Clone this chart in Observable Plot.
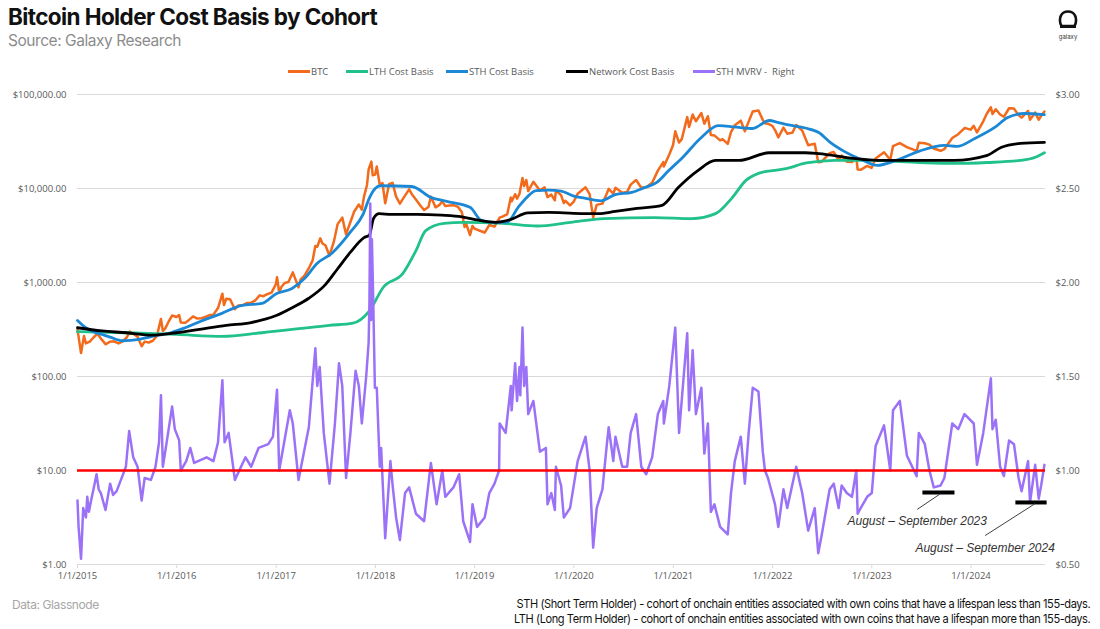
<!DOCTYPE html>
<html><head><meta charset="utf-8">
<script src="https://cdn.jsdelivr.net/npm/d3@7"></script>
<script src="https://cdn.jsdelivr.net/npm/@observablehq/plot@0.6"></script>
<style>
body{margin:0;background:#fff;width:1100px;height:629px;overflow:hidden;position:relative;font-family:Inter,"Open Sans",sans-serif}
#title{position:absolute;left:8px;top:3px;font-weight:700;font-size:22.5px;letter-spacing:-0.6px;color:#111;white-space:nowrap}
#sub{position:absolute;left:8px;top:31px;font-size:15.5px;letter-spacing:-0.45px;color:#8c8c8c;white-space:nowrap}
#logo{position:absolute;left:1056px;top:9px;width:24px;text-align:center}
#logo div{font-size:6px;color:#333;margin-top:-1px}
#legend{position:absolute;top:65px;left:0;width:1100px;height:14px;font-family:"Open Sans",sans-serif;font-size:9.5px;color:#595959}
.li{position:absolute;top:0;white-space:pre;display:flex;align-items:center}
.sw{display:inline-block;width:22px;height:3px;margin-right:1px}
#chart{position:absolute;left:0;top:84px}
#data{position:absolute;left:12px;top:597px;font-size:12px;color:#a6a6a6;letter-spacing:-0.4px}
#notes{position:absolute;right:10px;top:596px;font-size:12px;line-height:15px;color:#111;text-align:right;letter-spacing:-0.45px;white-space:nowrap;transform:scaleX(0.92);transform-origin:right top}
</style></head>
<body>
<div id="title">Bitcoin Holder Cost Basis by Cohort</div>
<div id="sub">Source: Galaxy Research</div>
<div id="logo"><svg width="22" height="21" viewBox="0 0 22 21"><path d="M4.5 17 C2.5 14 2.5 9 4 6.5 C5.5 3.5 8 2.5 11 2.5 C14 2.5 16.5 3.5 18 6.5 C19.5 9 19.5 14 17.5 17 Z" fill="none" stroke="#111" stroke-width="2.6" stroke-linejoin="round"/><line x1="3" y1="17.5" x2="19" y2="17.5" stroke="#111" stroke-width="3"/></svg><div>galaxy</div></div>
<div id="legend"></div>
<div id="chart"></div>
<div id="data">Data: Glassnode</div>
<div id="notes">STH (Short Term Holder) - cohort of onchain entities associated with own coins that have a lifespan less than 155-days.<br>LTH (Long Term Holder) - cohort of onchain entities associated with own coins that have a lifespan more than 155-days.</div>
<script>
// ---------- DATA ----------
const seriesNames = ["BTC","LTH Cost Basis","STH Cost Basis","Network Cost Basis","STH MVRV -  Right"];
const seriesColors = ["#F26A1B","#20C18A","#1B88D6","#000000","#9B72F7"];
const leftTicks = [1,10,100,1000,10000,100000];
const rightTicks = [0.5,1.0,1.5,2.0,2.5,3.0];
const yearTicks = ["2015","2016","2017","2018","2019","2020","2021","2022","2023","2024"];

const btc = [
["2015-01-01",315],["2015-01-14",178],["2015-01-25",270],["2015-02-01",225],["2015-02-15",235],["2015-03-01",260],["2015-03-15",285],["2015-04-01",245],["2015-04-15",220],["2015-05-01",235],["2015-05-15",237],["2015-06-01",225],["2015-06-15",235],["2015-07-01",260],["2015-07-12",300],["2015-07-25",285],["2015-08-10",265],["2015-08-25",210],["2015-09-05",235],["2015-09-20",230],["2015-10-05",240],["2015-10-20",270],["2015-11-04",410],["2015-11-11",305],["2015-11-20",325],["2015-12-01",378],["2015-12-15",445],["2015-12-31",430],
["2016-01-10",450],["2016-01-16",375],["2016-02-01",372],["2016-02-15",400],["2016-03-01",435],["2016-03-15",415],["2016-04-01",417],["2016-04-15",430],["2016-05-01",450],["2016-05-15",455],["2016-06-01",535],["2016-06-17",760],["2016-06-23",575],["2016-07-01",670],["2016-07-15",665],["2016-08-02",520],["2016-08-15",570],["2016-09-01",575],["2016-09-15",605],["2016-10-01",610],["2016-10-15",640],["2016-11-01",730],["2016-11-15",715],["2016-12-01",755],["2016-12-15",780],["2016-12-31",965],
["2017-01-04",1140],["2017-01-12",780],["2017-01-20",895],["2017-02-01",990],["2017-02-15",1010],["2017-03-03",1280],["2017-03-24",890],["2017-04-01",1080],["2017-04-15",1180],["2017-05-01",1420],["2017-05-15",1720],["2017-05-25",2450],["2017-06-01",2400],["2017-06-12",2950],["2017-06-20",2600],["2017-07-01",2490],["2017-07-16",1930],["2017-08-01",2720],["2017-08-15",4180],["2017-09-01",4900],["2017-09-15",3250],["2017-10-01",4400],["2017-10-15",5700],["2017-11-01",6750],["2017-11-12",5950],["2017-11-20",8200],["2017-12-01",10900],["2017-12-07",16000],["2017-12-17",19300],["2017-12-22",13800],["2017-12-31",14100],
["2018-01-06",17100],["2018-01-17",10900],["2018-01-27",11400],["2018-02-06",6950],["2018-02-20",11100],["2018-03-05",11500],["2018-03-18",8200],["2018-04-01",6900],["2018-04-15",8000],["2018-05-05",9800],["2018-05-15",8700],["2018-06-01",7500],["2018-06-15",6600],["2018-06-29",5900],["2018-07-15",6350],["2018-07-24",8200],["2018-08-10",6300],["2018-08-25",6700],["2018-09-04",7300],["2018-09-15",6500],["2018-10-01",6600],["2018-10-15",6650],["2018-11-01",6370],["2018-11-15",5600],["2018-11-25",3900],["2018-12-01",4200],["2018-12-15",3200],["2018-12-24",4000],["2018-12-31",3750],
["2019-01-15",3600],["2019-02-07",3400],["2019-02-24",4100],["2019-03-15",3930],["2019-04-03",4900],["2019-04-15",5050],["2019-05-01",5350],["2019-05-14",8000],["2019-05-17",7300],["2019-05-30",8700],["2019-06-06",7800],["2019-06-15",8800],["2019-06-26",12900],["2019-07-02",10600],["2019-07-10",12300],["2019-07-17",9400],["2019-08-05",11800],["2019-08-29",9500],["2019-09-15",10300],["2019-09-26",8100],["2019-10-10",8600],["2019-10-23",7500],["2019-10-27",9500],["2019-11-15",8500],["2019-11-25",7000],["2019-12-01",7400],["2019-12-18",6600],["2019-12-31",7200],
["2020-01-15",8800],["2020-02-13",10300],["2020-02-28",8700],["2020-03-12",4900],["2020-03-25",6700],["2020-04-15",6900],["2020-04-30",8700],["2020-05-08",9900],["2020-05-25",8800],["2020-06-02",10200],["2020-06-27",9000],["2020-07-15",9200],["2020-07-28",11000],["2020-08-17",12300],["2020-09-05",10200],["2020-09-23",10300],["2020-10-15",11500],["2020-11-05",15500],["2020-11-25",19100],["2020-11-27",17100],["2020-12-17",23000],["2020-12-31",29000],
["2021-01-08",40600],["2021-01-22",30800],["2021-02-01",33500],["2021-02-21",57500],["2021-02-28",45200],["2021-03-13",61200],["2021-03-25",52000],["2021-04-14",63500],["2021-04-25",49000],["2021-05-08",58800],["2021-05-19",37000],["2021-06-01",36700],["2021-06-22",32500],["2021-07-01",33500],["2021-07-20",29800],["2021-08-01",39900],["2021-08-15",47000],["2021-09-06",52700],["2021-09-21",40700],["2021-10-05",51500],["2021-10-20",66000],["2021-11-10",67500],["2021-11-26",53700],["2021-12-04",49300],["2021-12-15",48900],["2021-12-31",46300],
["2022-01-10",41800],["2022-01-22",35000],["2022-02-10",44500],["2022-02-24",38300],["2022-03-15",39300],["2022-03-29",47400],["2022-04-20",41400],["2022-05-12",28900],["2022-06-05",29900],["2022-06-18",19000],["2022-07-01",19300],["2022-07-30",23800],["2022-08-14",24400],["2022-09-01",20100],["2022-09-12",22400],["2022-10-01",19300],["2022-10-20",19100],["2022-11-05",21300],["2022-11-10",15900],["2022-11-21",15800],["2022-12-15",17400],["2022-12-31",16550],
["2023-01-15",20900],["2023-02-15",24300],["2023-03-10",20200],["2023-03-20",28200],["2023-04-14",30400],["2023-05-10",27600],["2023-06-15",25100],["2023-06-23",30700],["2023-07-15",30300],["2023-08-01",29300],["2023-08-17",26600],["2023-09-11",25200],["2023-09-25",26300],["2023-10-24",34500],["2023-11-15",37800],["2023-12-08",44000],["2023-12-31",42300],
["2024-01-11",46500],["2024-01-23",39500],["2024-02-15",51900],["2024-02-28",62400],["2024-03-14",73100],["2024-03-20",62000],["2024-04-01",69700],["2024-04-17",61300],["2024-05-01",58000],["2024-05-20",71400],["2024-06-07",70800],["2024-06-24",60300],["2024-07-05",56700],["2024-07-29",66800],["2024-08-05",54000],["2024-08-24",64200],["2024-09-06",53900],["2024-09-15",59200],["2024-09-27",65800]
];

const lth = [
["2015-01-01",300],["2015-07-01",292],["2016-01-01",280],["2016-06-15",267],["2016-11-10",292],["2017-07-15",350],["2017-10-10",370],["2017-12-10",500],["2018-01-30",890],["2018-04-12",1250],["2018-05-30",2180],["2018-07-05",3560],["2018-09-10",4260],["2018-11-20",4370],["2019-04-15",4270],["2019-08-20",3990],["2019-12-20",4370],["2020-04-20",4780],["2020-10-25",4900],["2021-03-10",4780],["2021-06-05",5400],["2021-08-05",7960],["2021-09-25",12200],["2021-11-10",14500],["2022-01-01",15500],["2022-02-20",16300],["2022-05-05",18700],["2022-08-20",19900],["2022-12-25",19900],["2023-06-25",18900],["2023-10-30",18500],["2024-03-01",18900],["2024-07-01",19900],["2024-08-25",21500],["2024-09-27",24000]
];

const sth = [
["2015-01-01",395],["2015-02-01",330],["2015-03-01",300],["2015-04-01",280],["2015-05-01",262],["2015-06-15",240],["2015-08-20",250],["2015-10-20",273],["2015-12-10",292],["2016-02-01",330],["2016-04-01",390],["2016-06-15",470],["2016-08-25",569],["2016-11-10",600],["2017-01-01",760],["2017-02-28",863],["2017-04-15",1100],["2017-06-01",1600],["2017-07-25",2050],["2017-10-05",3560],["2017-11-15",5200],["2017-12-10",7960],["2017-12-31",10000],["2018-01-20",10700],["2018-05-15",10500],["2018-07-25",8000],["2018-09-20",7300],["2018-12-15",6300],["2019-01-25",4600],["2019-03-10",4370],["2019-05-01",4400],["2019-06-10",6300],["2019-07-15",8200],["2019-08-15",9500],["2019-10-01",9600],["2019-11-15",9400],["2020-01-01",8300],["2020-02-10",7900],["2020-04-10",7400],["2020-06-01",8600],["2020-08-01",9100],["2020-09-20",10300],["2020-11-01",11600],["2020-12-15",15500],["2021-02-05",21500],["2021-04-10",34000],["2021-06-15",46700],["2021-07-15",46000],["2021-08-30",44600],["2021-10-20",43500],["2021-12-20",52900],["2022-01-20",50500],["2022-03-01",47500],["2022-05-01",44000],["2022-06-20",39400],["2022-08-01",31000],["2022-09-20",25000],["2022-12-01",19900],["2023-01-20",17600],["2023-04-01",19900],["2023-06-25",25000],["2023-09-25",28700],["2023-11-10",28000],["2024-01-15",34000],["2024-03-28",44600],["2024-05-15",56900],["2024-07-15",62800],["2024-09-27",61000]
];

const network = [
["2015-01-01",330],["2015-04-01",305],["2015-07-01",292],["2015-10-01",275],["2016-01-01",292],["2016-04-01",320],["2016-07-01",350],["2016-10-01",375],["2017-01-01",445],["2017-03-01",540],["2017-05-01",680],["2017-07-01",950],["2017-08-15",1400],["2017-10-01",2100],["2017-11-20",3000],["2017-12-10",3200],["2017-12-25",4800],["2018-01-15",5400],["2018-03-01",5300],["2018-06-01",5300],["2018-09-01",5200],["2018-11-15",5000],["2019-01-15",4600],["2019-03-20",4370],["2019-05-15",4700],["2019-07-15",5500],["2019-10-01",5560],["2020-01-01",5450],["2020-04-01",5400],["2020-06-01",5700],["2020-08-20",6130],["2020-11-20",6620],["2021-01-20",10300],["2021-04-01",15500],["2021-06-05",19900],["2021-08-30",19900],["2021-12-20",24000],["2022-05-01",24000],["2022-06-20",23500],["2022-10-25",20900],["2023-01-20",19900],["2023-10-30",19900],["2024-03-01",22500],["2024-04-20",27300],["2024-07-01",30200],["2024-09-27",30900]
];

const mvrv = [
["2015-01-01",0.84],["2015-01-05",0.70],["2015-01-14",0.53],["2015-01-22",0.80],["2015-02-01",0.75],["2015-02-06",0.86],["2015-02-12",0.78],["2015-02-20",0.84],["2015-03-05",0.93],["2015-03-12",0.98],["2015-03-20",0.90],["2015-03-28",0.88],["2015-04-14",0.79],["2015-05-01",0.93],["2015-05-12",0.87],["2015-05-25",0.89],["2015-06-15",0.97],["2015-06-28",1.02],["2015-07-10",1.21],["2015-07-25",1.07],["2015-08-10",1.02],["2015-08-25",0.84],["2015-09-05",0.96],["2015-09-28",0.95],["2015-10-15",1.02],["2015-10-28",1.15],["2015-11-04",1.40],["2015-11-11",1.02],["2015-11-25",1.15],["2015-12-15",1.34],["2015-12-25",1.22],
["2016-01-10",1.16],["2016-01-16",1.00],["2016-02-05",1.05],["2016-02-20",1.12],["2016-03-05",1.04],["2016-04-20",1.07],["2016-05-15",1.05],["2016-06-01",1.15],["2016-06-17",1.48],["2016-06-25",1.15],["2016-07-10",1.20],["2016-08-02",0.95],["2016-09-10",1.07],["2016-10-01",1.02],["2016-10-28",1.12],["2016-12-03",1.14],["2016-12-20",1.18],
["2017-01-04",1.43],["2017-01-12",1.00],["2017-02-20",1.32],["2017-03-03",1.25],["2017-03-24",0.95],["2017-05-01",1.23],["2017-05-25",1.65],["2017-06-01",1.45],["2017-06-10",1.55],["2017-06-25",1.20],["2017-07-16",0.93],["2017-08-05",1.25],["2017-08-20",1.57],["2017-09-01",1.45],["2017-09-15",0.96],["2017-10-01",1.20],["2017-10-20",1.53],["2017-11-01",1.45],["2017-11-12",1.25],["2017-11-28",1.50],["2017-12-07",1.68],["2017-12-10",1.90],["2017-12-13",2.42],["2017-12-16",1.80],["2017-12-19",2.23],["2017-12-24",1.90],["2017-12-30",1.44],
["2018-01-06",1.44],["2018-01-17",1.02],["2018-01-22",1.12],["2018-02-06",0.64],["2018-02-25",1.05],["2018-03-06",0.91],["2018-03-18",0.75],["2018-04-01",0.63],["2018-04-20",0.88],["2018-05-05",0.91],["2018-05-30",0.77],["2018-06-29",0.73],["2018-07-24",1.04],["2018-08-14",0.82],["2018-09-04",1.00],["2018-09-15",0.86],["2018-10-15",0.91],["2018-11-05",0.98],["2018-11-20",0.73],["2018-12-15",0.62],["2018-12-24",0.82],
["2019-01-10",0.70],["2019-02-07",0.75],["2019-02-24",0.88],["2019-03-15",0.93],["2019-04-01",1.00],["2019-04-03",1.25],["2019-04-25",1.20],["2019-05-14",1.45],["2019-05-17",1.32],["2019-05-30",1.57],["2019-06-06",1.37],["2019-06-15",1.55],["2019-06-18",1.40],["2019-06-26",1.76],["2019-07-02",1.45],["2019-07-10",1.55],["2019-07-17",1.30],["2019-08-05",1.37],["2019-08-29",1.10],["2019-09-20",1.12],["2019-09-26",0.82],["2019-10-10",0.88],["2019-10-23",0.79],["2019-10-27",1.02],["2019-11-15",0.92],["2019-11-25",0.75],["2019-12-18",0.80],
["2020-01-15",1.05],["2020-02-13",1.18],["2020-02-28",1.00],["2020-03-12",0.59],["2020-03-25",0.80],["2020-04-15",0.90],["2020-04-30",1.12],["2020-05-08",1.23],["2020-05-25",1.05],["2020-06-02",1.18],["2020-06-27",1.02],["2020-07-15",1.02],["2020-07-28",1.20],["2020-08-17",1.30],["2020-09-05",1.02],["2020-09-23",0.98],["2020-10-15",1.07],["2020-11-05",1.30],["2020-11-25",1.37],["2020-11-27",1.25],["2020-12-17",1.45],
["2021-01-08",1.76],["2021-01-22",1.20],["2021-02-21",1.73],["2021-02-28",1.32],["2021-03-13",1.64],["2021-03-25",1.30],["2021-04-14",1.44],["2021-04-25",1.09],["2021-05-08",1.25],["2021-05-19",0.78],["2021-06-01",0.82],["2021-06-22",0.70],["2021-07-20",0.66],["2021-08-01",0.88],["2021-08-15",1.05],["2021-09-06",1.18],["2021-09-21",0.93],["2021-10-05",1.20],["2021-10-20",1.44],["2021-11-10",1.42],["2021-11-26",1.10],["2021-12-04",1.00],["2021-12-15",0.96],
["2022-01-10",0.82],["2022-01-22",0.70],["2022-02-10",0.90],["2022-02-24",0.80],["2022-03-29",1.02],["2022-04-20",0.88],["2022-05-12",0.68],["2022-06-05",0.80],["2022-06-18",0.56],["2022-07-01",0.66],["2022-07-30",0.90],["2022-08-14",0.93],["2022-09-01",0.80],["2022-09-12",0.92],["2022-10-01",0.88],["2022-10-20",0.86],["2022-11-05",1.00],["2022-11-10",0.77],["2022-11-21",0.80],["2022-12-15",0.86],
["2023-01-01",0.88],["2023-01-15",1.13],["2023-02-15",1.24],["2023-03-10",1.00],["2023-03-20",1.32],["2023-04-14",1.37],["2023-05-10",1.08],["2023-06-15",0.97],["2023-06-23",1.20],["2023-07-15",1.14],["2023-08-01",1.00],["2023-08-17",0.91],["2023-09-11",0.92],["2023-09-25",0.96],["2023-10-24",1.25],["2023-11-15",1.22],["2023-12-08",1.30],
["2024-01-11",1.25],["2024-01-23",1.03],["2024-02-15",1.20],["2024-03-14",1.49],["2024-03-20",1.22],["2024-04-01",1.27],["2024-04-17",1.02],["2024-05-01",0.97],["2024-05-20",1.16],["2024-06-07",1.14],["2024-06-24",0.96],["2024-07-05",0.89],["2024-07-29",1.05],["2024-08-05",0.83],["2024-08-24",1.03],["2024-09-06",0.85],["2024-09-15",0.92],["2024-09-27",1.03]
];

const thresholdLeft = 10; // $10 on the left axis = $1.00 on the right axis
// annotation bars (right-axis units)
const bars = [
  {from:"2023-07-08", to:"2023-11-03", level:0.883},
  {from:"2024-06-14", to:"2024-10-07", level:0.83}
];
const labels = [
  {text:"August – September 2023", at:"2023-06-17", level:0.729, fromDate:"2023-09-10", fromLevel:0.876, toDate:"2023-06-17", toLevel:0.793},
  {text:"August – September 2024", at:"2024-02-22", level:0.585, fromDate:"2024-08-24", fromLevel:0.824, toDate:"2024-02-22", toLevel:0.654}
];

// ---------- BUILD ----------
const P = d3.utcParse("%Y-%m-%d");
const rightToLeft = v => Math.pow(10, 2 * (v - 0.5));   // right axis (linear) -> left axis (log)
const leftToRight = d => 0.5 + Math.log10(d) / 2;
const rows = (arr, name, conv = v => v) => arr.map(([d, v]) => ({date: P(d), value: conv(v), series: name}));

const sBTC = rows(btc, seriesNames[0]);
const sLTH = rows(lth, seriesNames[1]);
const sSTH = rows(sth, seriesNames[2]);
const sNET = rows(network, seriesNames[3]);
const sMV = rows(mvrv, seriesNames[4], rightToLeft);

const barRows = bars.map(b => ({x1: P(b.from), x2: P(b.to), y: rightToLeft(b.level)}));
const labelRows = labels.map(l => ({text: l.text, x: P(l.at), y: rightToLeft(l.level),
  x1: P(l.fromDate), y1: rightToLeft(l.fromLevel), x2: P(l.toDate), y2: rightToLeft(l.toLevel)}));

// legend
const leg = document.getElementById("legend");
const legX = [288, 346, 446, 566, 693];
seriesNames.forEach((n, i) => {
  const el = document.createElement("div");
  el.className = "li"; el.style.left = legX[i] + "px";
  el.innerHTML = `<span class="sw" style="background:${seriesColors[i]}"></span><span>${n}</span>`;
  leg.appendChild(el);
});

const fmtLeft = d => "$" + d3.format(",.2f")(d);
const fmtX = d => "1/1/" + d.getUTCFullYear();

const chart = Plot.plot({
  width: 1100,
  height: 516,
  marginTop: 10,
  marginBottom: 36,
  marginLeft: 77,
  marginRight: 55,
  style: {fontFamily: "'Open Sans', sans-serif", fontSize: "9.5px", color: "#595959", background: "transparent", overflow: "visible"},
  x: {type: "utc", domain: [P("2015-01-01"), P("2024-10-01")]},
  y: {type: "log", domain: [1, 100000]},
  marks: [
    Plot.ruleY(leftTicks, {stroke: "#d9d9d9", strokeWidth: 1}),
    Plot.axisY({anchor: "left", ticks: leftTicks, tickFormat: fmtLeft, tickSize: 0, tickPadding: 11, label: null}),
    Plot.axisY({anchor: "right", ticks: rightTicks.map(rightToLeft), tickFormat: d => "$" + leftToRight(d).toFixed(2), tickSize: 0, tickPadding: 10, label: null}),
    Plot.axisX({ticks: yearTicks.map(y => P(y + "-01-01")), tickFormat: fmtX, tickSize: 4, stroke: "#d9d9d9", tickPadding: 4, label: null}),
    Plot.line(sBTC, {x: "date", y: "value", stroke: seriesColors[0], strokeWidth: 2.5}),
    Plot.line(sLTH, {x: "date", y: "value", stroke: seriesColors[1], strokeWidth: 2.8, curve: "monotone-x"}),
    Plot.line(sSTH, {x: "date", y: "value", stroke: seriesColors[2], strokeWidth: 2.8, curve: "monotone-x"}),
    Plot.line(sNET, {x: "date", y: "value", stroke: seriesColors[3], strokeWidth: 2.8, curve: "monotone-x"}),
    Plot.line(sMV, {x: "date", y: "value", stroke: seriesColors[4], strokeWidth: 2.5}),
    Plot.ruleY([thresholdLeft], {stroke: "#ff0000", strokeWidth: 2.5}),
    Plot.ruleY(barRows, {x1: "x1", x2: "x2", y: "y", stroke: "#000", strokeWidth: 4}),
    Plot.link(labelRows, {x1: "x1", y1: "y1", x2: "x2", y2: "y2", stroke: "#404040", strokeWidth: 1}),
    Plot.text(labelRows, {x: "x", y: "y", text: "text", fontStyle: "italic", fontSize: 12, fill: "#333", fontFamily: "'Liberation Sans', Arial, sans-serif"})
  ]
});
document.getElementById("chart").appendChild(chart);
</script>
</body></html>
